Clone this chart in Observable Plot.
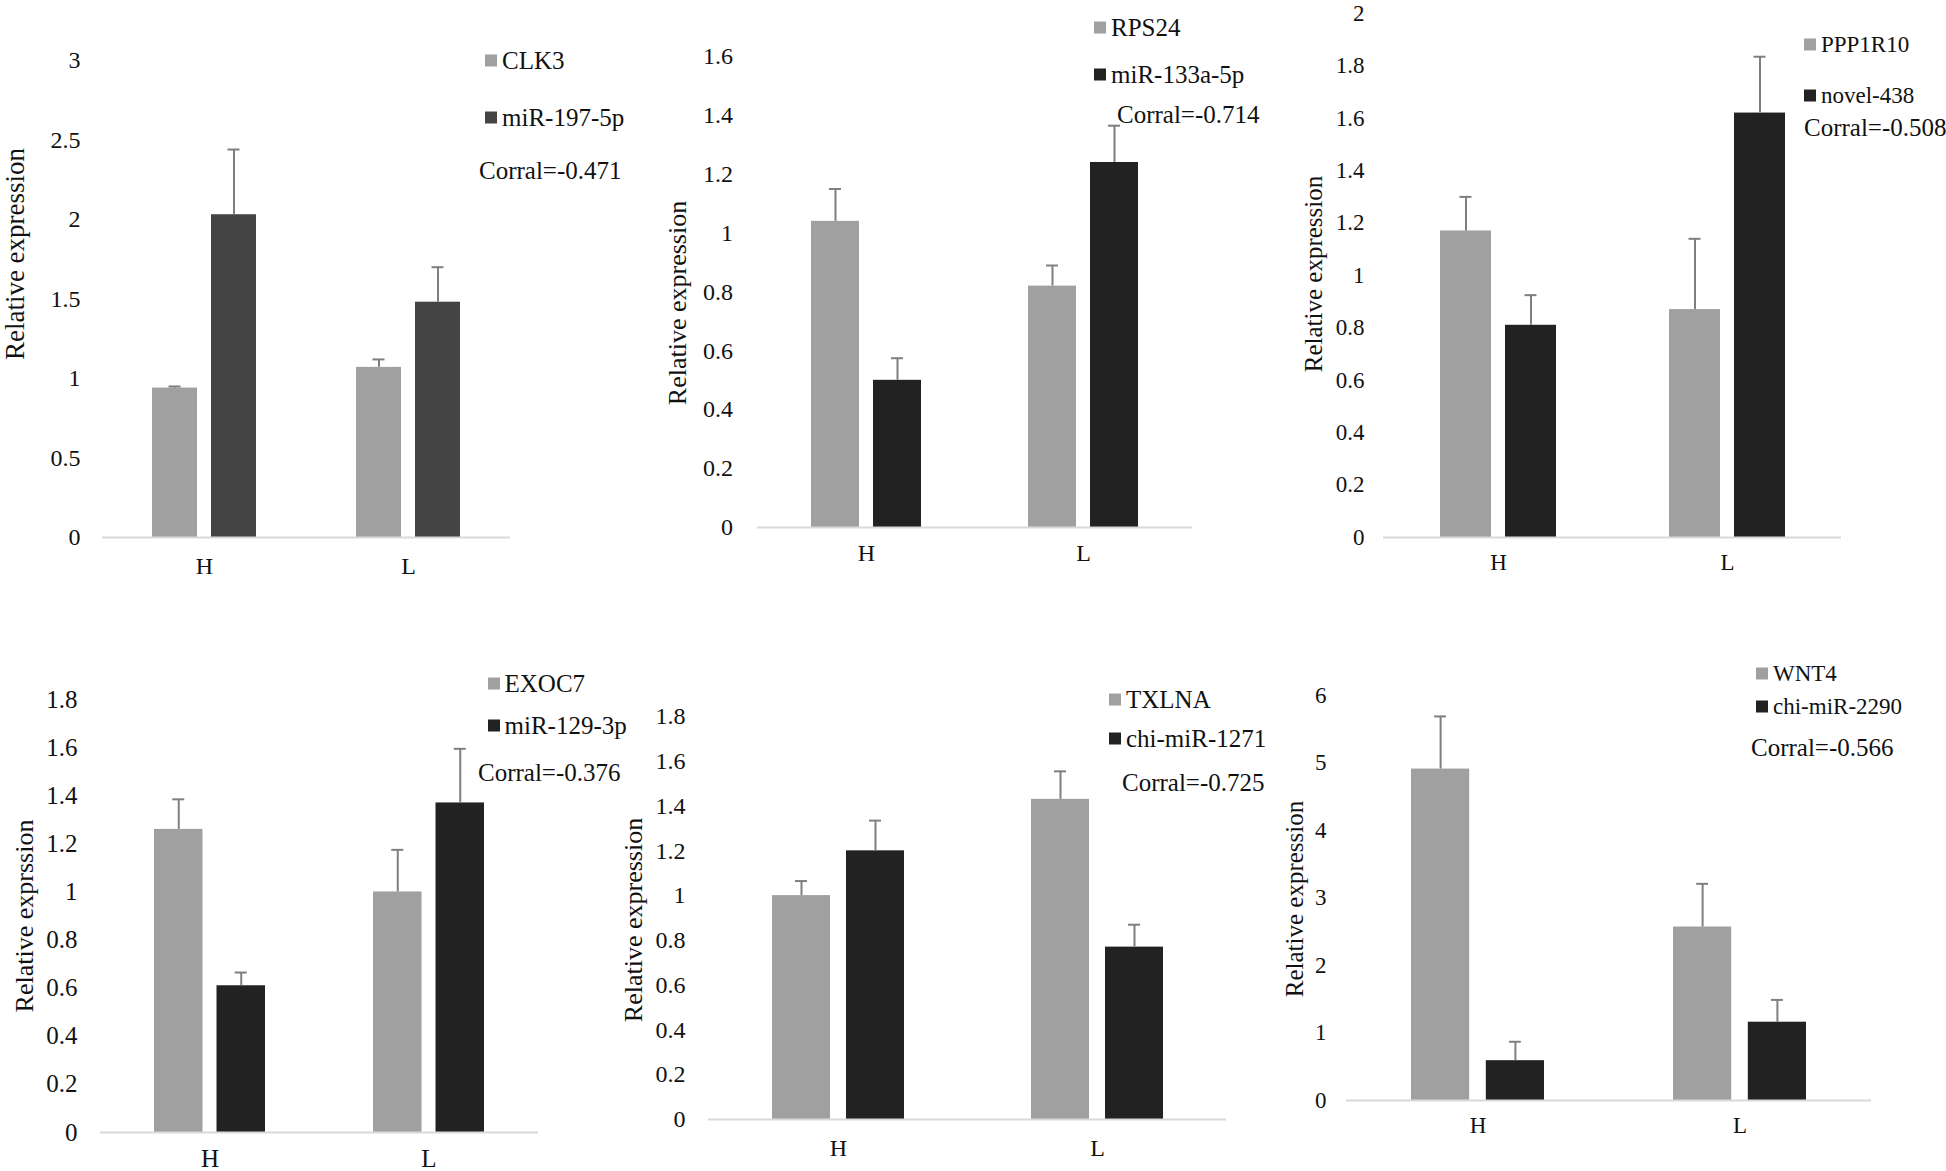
<!DOCTYPE html>
<html>
<head>
<meta charset="utf-8">
<script src="https://cdn.jsdelivr.net/npm/d3@7"></script>
<script src="https://cdn.jsdelivr.net/npm/@observablehq/plot@0.6"></script>
<style>
  html, body { margin: 0; padding: 0; background: #fff; }
  #page { position: relative; width: 1946px; height: 1171px; overflow: hidden; background: #fff;
          font-family: 'Liberation Serif', 'Times New Roman', serif; color: #111; }
  .abs { position: absolute; white-space: nowrap; line-height: 1; }
  .ytitle { transform: translate(-50%, -50%) rotate(-90deg); }
  .leg { transform: translateY(-50%); display: flex; align-items: center; }
  .sw { display: inline-block; width: 12px; height: 12px; margin-right: 5px; }
  .corr { transform: translateY(-50%); }
  svg { overflow: visible; }
</style>
</head>
<body>
<div id="page"></div>
<script>
// ---------- data ----------
const groups = ["H", "L"];

const p1Series = ["CLK3", "miR-197-5p"];
const clk3 = [0.94, 1.07];
const clk3Se = [0.01, 0.05];
const mir197 = [2.03, 1.48];
const mir197Se = [0.41, 0.22];

const p2Series = ["RPS24", "miR-133a-5p"];
const rps24 = [1.04, 0.82];
const rps24Se = [0.11, 0.07];
const mir133 = [0.50, 1.24];
const mir133Se = [0.075, 0.125];

const p3Series = ["PPP1R10", "novel-438"];
const ppp1r10 = [1.17, 0.87];
const ppp1r10Se = [0.13, 0.27];
const novel438 = [0.81, 1.62];
const novel438Se = [0.115, 0.215];

const p4Series = ["EXOC7", "miR-129-3p"];
const exoc7 = [1.26, 1.00];
const exoc7Se = [0.125, 0.175];
const mir129 = [0.61, 1.37];
const mir129Se = [0.055, 0.225];

const p5Series = ["TXLNA", "chi-miR-1271"];
const txlna = [1.00, 1.43];
const txlnaSe = [0.065, 0.125];
const mir1271 = [1.20, 0.77];
const mir1271Se = [0.135, 0.10];

const p6Series = ["WNT4", "chi-miR-2290"];
const wnt4 = [4.91, 2.57];
const wnt4Se = [0.78, 0.64];
const mir2290 = [0.59, 1.16];
const mir2290Se = [0.28, 0.33];

const corrals = ["Corral=-0.471", "Corral=-0.714", "Corral=-0.508", "Corral=-0.376", "Corral=-0.725", "Corral=-0.566"];
const yTitles = ["Relative expression", "Relative expression", "Relative expression", "Relative exprssion", "Relative expression", "Relative expression"];
const yMax = [3, 1.6, 2, 1.8, 1.8, 6];
const yStep = [0.5, 0.2, 0.2, 0.2, 0.2, 1];

// ---------- layout ----------
const FONT = "'Liberation Serif', 'Times New Roman', serif";
const LIGHT = "#a0a0a0";
const ERR = "#7f7f7f";

const panels = [
  {series: p1Series, a: clk3, aSe: clk3Se, b: mir197, bSe: mir197Se, dark: "#444444",
   x0: 102, x1: 510, yTop: 60, yBase: 537, bw: 45, gap: 14, tickRight: 80, xOff: 28,
   tickFont: 24, titleFont: 27, titleX: 15, titleY: 254,
   legX: 485, legY: [60, 117], legFont: 25, corrX: 479, corrY: 170, corrFont: 25},
  {series: p2Series, a: rps24, aSe: rps24Se, b: mir133, bSe: mir133Se, dark: "#222222",
   x0: 757, x1: 1192, yTop: 56, yBase: 527, bw: 48, gap: 14, tickRight: 732.5, xOff: 25,
   tickFont: 24, titleFont: 26, titleX: 678, titleY: 303,
   legX: 1094, legY: [27, 74], legFont: 25, corrX: 1117, corrY: 114, corrFont: 25},
  {series: p3Series, a: ppp1r10, aSe: ppp1r10Se, b: novel438, bSe: novel438Se, dark: "#222222",
   x0: 1383, x1: 1841, yTop: 13, yBase: 537, bw: 51, gap: 14, tickRight: 1364, xOff: 25,
   tickFont: 23, titleFont: 25, titleX: 1313, titleY: 274,
   legX: 1804, legY: [44, 95], legFont: 23, corrX: 1804, corrY: 127, corrFont: 25},
  {series: p4Series, a: exoc7, aSe: exoc7Se, b: mir129, bSe: mir129Se, dark: "#222222",
   x0: 100, x1: 538, yTop: 699, yBase: 1132, bw: 48.5, gap: 14, tickRight: 77, xOff: 26,
   tickFont: 25, titleFont: 26, titleX: 25, titleY: 916,
   legX: 487.5, legY: [683, 725], legFont: 25, corrX: 478, corrY: 772, corrFont: 25},
  {series: p5Series, a: txlna, aSe: txlnaSe, b: mir1271, bSe: mir1271Se, dark: "#222222",
   x0: 708, x1: 1226, yTop: 716, yBase: 1119, bw: 58, gap: 16, tickRight: 685, xOff: 28,
   tickFont: 24, titleFont: 26, titleX: 634, titleY: 920,
   legX: 1109, legY: [699, 738], legFont: 25, corrX: 1122, corrY: 782, corrFont: 25},
  {series: p6Series, a: wnt4, aSe: wnt4Se, b: mir2290, bSe: mir2290Se, dark: "#222222",
   x0: 1346, x1: 1871, yTop: 695, yBase: 1100, bw: 58.3, gap: 16.5, tickRight: 1326, xOff: 25,
   tickFont: 23, titleFont: 25, titleX: 1294, titleY: 899,
   legX: 1756, legY: [673, 706], legFont: 23, corrX: 1751, corrY: 747, corrFont: 25}
];

const page = document.getElementById("page");

function addDiv(cls, left, top, html, fontSize) {
  const d = document.createElement("div");
  d.className = "abs " + cls;
  d.style.left = left + "px";
  d.style.top = top + "px";
  d.style.fontSize = fontSize + "px";
  d.innerHTML = html;
  page.appendChild(d);
  return d;
}

panels.forEach((p, k) => {
  const W = p.x1 - p.x0, H = p.yBase - p.yTop;
  const mL = 100, mT = 30, mR = 10, mB = 70;
  const groupW = 2 * p.bw + p.gap;
  const step = W / 2;
  const pi = 1 - groupW / step;
  const off = (p.bw + p.gap) / 2;
  const inset = p.bw + p.gap;
  const capW = 12;
  const capIn = (groupW - capW) / 2;
  const rowsA = groups.map((g, i) => ({group: g, mean: p.a[i], se: p.aSe[i]}));
  const rowsB = groups.map((g, i) => ({group: g, mean: p.b[i], se: p.bSe[i]}));
  const ticks = d3.range(0, yMax[k] + 1e-9, yStep[k]);
  const fmt = d => String(Math.round(d * 10) / 10);

  const chart = Plot.plot({
    width: W + mL + mR,
    height: H + mT + mB,
    marginLeft: mL, marginRight: mR, marginTop: mT, marginBottom: mB,
    style: {fontFamily: FONT, fontSize: p.tickFont + "px", color: "#111", background: "transparent", overflow: "visible", maxWidth: "none"},
    x: {domain: groups, paddingInner: pi, paddingOuter: pi / 2, label: null, tickSize: 0, tickPadding: p.xOff - 9},
    y: {domain: [0, yMax[k]], ticks, tickFormat: fmt, label: null, tickSize: 0, tickPadding: p.x0 - p.tickRight},
    marks: [
      Plot.barY(rowsA, {x: "group", y: "mean", fill: LIGHT, insetRight: inset}),
      Plot.barY(rowsB, {x: "group", y: "mean", fill: p.dark, insetLeft: inset}),
      Plot.ruleY([0], {stroke: "#d9d9d9", strokeWidth: 2}),
      Plot.ruleX(rowsA, {x: "group", y1: "mean", y2: d => d.mean + d.se, dx: -off, stroke: ERR, strokeWidth: 2}),
      Plot.ruleX(rowsB, {x: "group", y1: "mean", y2: d => d.mean + d.se, dx: off, stroke: ERR, strokeWidth: 2}),
      Plot.tickY(rowsA, {x: "group", y: d => d.mean + d.se, dx: -off, insetLeft: capIn, insetRight: capIn, stroke: ERR, strokeWidth: 2}),
      Plot.tickY(rowsB, {x: "group", y: d => d.mean + d.se, dx: off, insetLeft: capIn, insetRight: capIn, stroke: ERR, strokeWidth: 2})
    ]
  });
  chart.style.position = "absolute";
  chart.style.left = (p.x0 - mL) + "px";
  chart.style.top = (p.yTop - mT) + "px";
  page.appendChild(chart);

  // y-axis title
  addDiv("ytitle", p.titleX, p.titleY, yTitles[k], p.titleFont);
  // legend
  addDiv("leg", p.legX, p.legY[0], `<span class="sw" style="background:${LIGHT}"></span>${p.series[0]}`, p.legFont);
  addDiv("leg", p.legX, p.legY[1], `<span class="sw" style="background:${p.dark}"></span>${p.series[1]}`, p.legFont);
  addDiv("corr", p.corrX, p.corrY, corrals[k], p.corrFont);
});
</script>
</body>
</html>
